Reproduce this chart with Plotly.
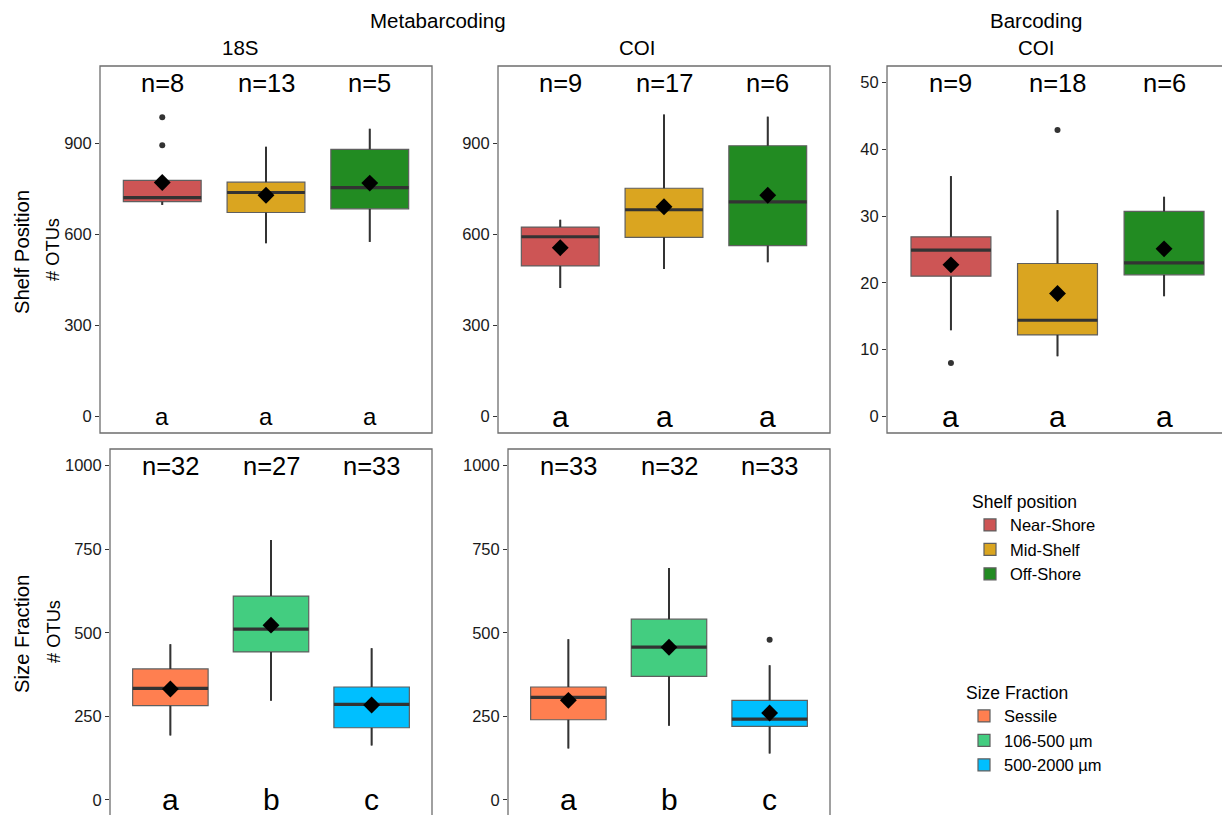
import plotly.graph_objects as go

FONT = "Liberation Sans, Arial, Helvetica, sans-serif"
# Page body adds an 8px margin; figure is sized so that it ends at the window edge.
OFF = 8
SCREEN_W, SCREEN_H = 1230, 815
W, H = SCREEN_W - OFF, SCREEN_H - OFF

# ---------------- data ----------------
shelf_groups = ["Near-Shore", "Mid-Shelf", "Off-Shore"]
shelf_colors = ["#CD5555", "#DAA520", "#228B22"]
size_groups = ["Sessile", "106-500 µm", "500-2000 µm"]
size_colors = ["#FF7F50", "#43CD80", "#00BFFF"]

# Panel 1: Metabarcoding 18S, shelf position
p1_q1 = [708, 672, 684]
p1_med = [721, 738, 754]
p1_q3 = [778, 772, 880]
p1_lo = [697, 571, 575]
p1_hi = [778, 889, 948]
p1_mean = [771, 729, 769]
p1_out = [[894, 986], [], []]
p1_n = [8, 13, 5]
p1_letters = ["a", "a", "a"]

# Panel 2: Metabarcoding COI, shelf position
p2_q1 = [496, 590, 563]
p2_med = [592, 681, 707]
p2_q3 = [624, 752, 892]
p2_lo = [423, 486, 508]
p2_hi = [648, 995, 988]
p2_mean = [556, 691, 729]
p2_out = [[], [], []]
p2_n = [9, 17, 6]
p2_letters = ["a", "a", "a"]

# Panel 3: Barcoding COI, shelf position
p3_q1 = [21.0, 12.2, 21.2]
p3_med = [24.9, 14.4, 23.0]
p3_q3 = [26.9, 22.9, 30.7]
p3_lo = [12.9, 9.0, 18.0]
p3_hi = [36.0, 30.9, 32.9]
p3_mean = [22.7, 18.4, 25.1]
p3_out = [[8.0], [42.9], []]
p3_n = [9, 18, 6]
p3_letters = ["a", "a", "a"]

# Panel 4: Metabarcoding 18S, size fraction
p4_q1 = [282, 443, 216]
p4_med = [334, 511, 286]
p4_q3 = [392, 610, 338]
p4_lo = [193, 297, 163]
p4_hi = [466, 778, 454]
p4_mean = [332, 523, 284]
p4_out = [[], [], []]
p4_n = [32, 27, 33]
p4_letters = ["a", "b", "c"]

# Panel 5: Metabarcoding COI, size fraction
p5_q1 = [240, 370, 220]
p5_med = [307, 457, 242]
p5_q3 = [338, 541, 298]
p5_lo = [154, 222, 139]
p5_hi = [481, 694, 403]
p5_mean = [298, 457, 260]
p5_out = [[], [], [479]]
p5_n = [33, 32, 33]
p5_letters = ["a", "b", "c"]

y_ticks_top = [0, 300, 600, 900]
y_ticks_bar = [0, 10, 20, 30, 40, 50]
y_ticks_bottom = [0, 250, 500, 750, 1000]

# ---------------- figure ----------------
fig = go.Figure()
BOXW = 0.75
positions = [1, 2, 3]


def add_panel(k, q1, med, q3, lo, hi, mean, outs, groups, colors, legend, showleg):
    xa = "x" if k == 1 else f"x{k}"
    ya = "y" if k == 1 else f"y{k}"
    for i, g in enumerate(groups):
        x = positions[i]
        fig.add_trace(go.Box(
            x=[x], q1=[q1[i]], median=[med[i]], q3=[q3[i]],
            lowerfence=[lo[i]], upperfence=[hi[i]],
            width=BOXW, whiskerwidth=0,
            fillcolor=colors[i], line=dict(color="#5f5f5f", width=1.2),
            name=g, legendgroup=legend, legend=legend,
            showlegend=showleg, xaxis=xa, yaxis=ya, hoverinfo="skip",
        ))
    for i in range(3):
        x = positions[i]
        fig.add_trace(go.Scatter(
            x=[x, x, None, x, x], y=[lo[i], q1[i], None, q3[i], hi[i]],
            mode="lines", line=dict(color="#333333", width=2),
            showlegend=False, xaxis=xa, yaxis=ya, hoverinfo="skip",
        ))
        fig.add_trace(go.Scatter(
            x=[x - BOXW / 2, x + BOXW / 2], y=[med[i], med[i]],
            mode="lines", line=dict(color="#333333", width=3.2),
            showlegend=False, xaxis=xa, yaxis=ya, hoverinfo="skip",
        ))
    ox, oy = [], []
    for i in range(3):
        for v in outs[i]:
            ox.append(positions[i])
            oy.append(v)
    if ox:
        fig.add_trace(go.Scatter(
            x=ox, y=oy, mode="markers",
            marker=dict(color="#333333", size=6),
            showlegend=False, xaxis=xa, yaxis=ya, hoverinfo="skip",
        ))
    fig.add_trace(go.Scatter(
        x=positions, y=mean, mode="markers",
        marker=dict(symbol="diamond", color="black", size=13),
        showlegend=False, xaxis=xa, yaxis=ya, hoverinfo="skip",
    ))


add_panel(1, p1_q1, p1_med, p1_q3, p1_lo, p1_hi, p1_mean, p1_out, shelf_groups, shelf_colors, "legend", True)
add_panel(2, p2_q1, p2_med, p2_q3, p2_lo, p2_hi, p2_mean, p2_out, shelf_groups, shelf_colors, "legend", False)
add_panel(3, p3_q1, p3_med, p3_q3, p3_lo, p3_hi, p3_mean, p3_out, shelf_groups, shelf_colors, "legend", False)
add_panel(4, p4_q1, p4_med, p4_q3, p4_lo, p4_hi, p4_mean, p4_out, size_groups, size_colors, "legend2", True)
add_panel(5, p5_q1, p5_med, p5_q3, p5_lo, p5_hi, p5_mean, p5_out, size_groups, size_colors, "legend2", False)


# ---------------- axes ----------------
def sx(px):
    return (px - OFF) / W


def sy(py):
    return 1 - (py - OFF) / H


def px_x(a, b):
    return [sx(a), sx(b)]


def px_y(top, bottom):
    return [max(0.0, sy(bottom)), min(1.0, sy(top))]


panel_specs = {
    1: dict(xd=px_x(100, 432), yd=px_y(66, 433), yr=[-55, 1155], tv=y_ticks_top),
    2: dict(xd=px_x(498, 830), yd=px_y(66, 433), yr=[-55, 1155], tv=y_ticks_top),
    3: dict(xd=px_x(887, 1228), yd=px_y(66, 433), yr=[-2.5, 52.5], tv=y_ticks_bar),
    4: dict(xd=px_x(110, 432), yd=px_y(449, 815), yr=[-45, 1050], tv=y_ticks_bottom),
    5: dict(xd=px_x(508, 830), yd=px_y(449, 815), yr=[-45, 1050], tv=y_ticks_bottom),
}

layout_axes = {}
for k, s in panel_specs.items():
    xn = "xaxis" if k == 1 else f"xaxis{k}"
    yn = "yaxis" if k == 1 else f"yaxis{k}"
    ya = "y" if k == 1 else f"y{k}"
    xa = "x" if k == 1 else f"x{k}"
    layout_axes[xn] = dict(domain=s["xd"], range=[0.4, 3.6], anchor=ya,
                           showticklabels=False, ticks="", showgrid=False,
                           zeroline=False, showline=False)
    layout_axes[yn] = dict(domain=s["yd"], range=s["yr"], anchor=xa,
                           tickmode="array", tickvals=s["tv"],
                           ticks="outside", ticklen=4, tickwidth=1.3, tickcolor="#333333",
                           tickfont=dict(family=FONT, size=16.5, color="#1a1a1a"),
                           showgrid=False, zeroline=False, showline=False)
fig.update_layout(**layout_axes)

shapes = []
for k in panel_specs:
    xr = "x domain" if k == 1 else f"x{k} domain"
    yr = "y domain" if k == 1 else f"y{k} domain"
    y0 = -0.05 if k in (4, 5) else 0
    shapes.append(dict(type="rect", xref=xr, yref=yr, x0=0, x1=1, y0=y0, y1=1,
                       line=dict(color="#6e6e6e", width=1.3), layer="above"))

# ---------------- annotations ----------------
ann = []


def paper_text(text, x, y, size, angle=0):
    ann.append(dict(text=text, x=sx(x), y=sy(y), xref="paper", yref="paper",
                    showarrow=False, xanchor="center", yanchor="middle",
                    textangle=angle, font=dict(family=FONT, size=size, color="black")))


paper_text("Metabarcoding", 438, 20.5, 20.5)
paper_text("Barcoding", 1036, 20.5, 20.5)
paper_text("18S", 240, 47, 20.5)
paper_text("COI", 637, 47, 20.5)
paper_text("COI", 1036, 47, 20.5)
paper_text("Shelf Position", 22, 252, 20.3, -90)
paper_text("# OTUs", 53, 250, 18.3, -90)
paper_text("Size Fraction", 22, 634, 20.3, -90)
paper_text("# OTUs", 53, 632, 18.3, -90)

panel_text = {
    1: (p1_n, p1_letters, 1100, 0, 24),
    2: (p2_n, p2_letters, 1100, 0, 30),
    3: (p3_n, p3_letters, 50, 0, 30),
    4: (p4_n, p4_letters, 1000, 0, 30),
    5: (p5_n, p5_letters, 1000, 0, 30),
}
for k, (ns, lets, ytop, ybot, lsize) in panel_text.items():
    xa = "x" if k == 1 else f"x{k}"
    ya = "y" if k == 1 else f"y{k}"
    for i in range(3):
        ann.append(dict(text=f"n={ns[i]}", x=positions[i], y=ytop, xref=xa, yref=ya,
                        showarrow=False, xanchor="center", yanchor="middle",
                        font=dict(family=FONT, size=25.5, color="black")))
        ann.append(dict(text=lets[i], x=positions[i], y=ybot, xref=xa, yref=ya,
                        showarrow=False, xanchor="center", yanchor="middle",
                        font=dict(family=FONT, size=lsize, color="black")))

fig.update_layout(
    width=W, height=H,
    margin=dict(l=0, r=0, t=0, b=0),
    paper_bgcolor="white", plot_bgcolor="white",
    boxmode="overlay",
    annotations=ann, shapes=shapes,
    font=dict(family=FONT),
    legend=dict(x=sx(970), y=sy(485), xanchor="left", yanchor="top",
                title=dict(text="Shelf position", font=dict(family=FONT, size=17.5, color="black")),
                font=dict(family=FONT, size=16.5, color="black"),
                itemwidth=30, tracegroupgap=0, bgcolor="rgba(0,0,0,0)"),
    legend2=dict(x=sx(964), y=sy(676), xanchor="left", yanchor="top",
                 title=dict(text="Size Fraction", font=dict(family=FONT, size=17.5, color="black")),
                 font=dict(family=FONT, size=16.5, color="black"),
                 itemwidth=30, tracegroupgap=0, bgcolor="rgba(0,0,0,0)"),
)

fig.write_html("out.html")
